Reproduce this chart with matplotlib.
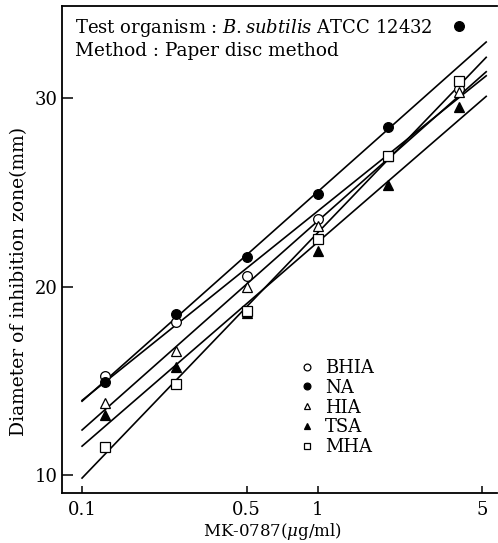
import numpy as np
import matplotlib

matplotlib.use("Agg")
import matplotlib.pyplot as plt

# MK-0787 concentration (ug/ml) and inhibition zone diameters (mm)
conc = [0.125, 0.25, 0.5, 1, 2, 4]
bhia = [15.25, 18.1, 20.55, 23.6, 26.9, 30.5]
na = [14.93, 18.54, 21.56, 24.9, 28.46, 33.8]
hia = [13.8, 16.58, 20.0, 23.2, 26.9, 30.3]
tsa = [13.18, 15.73, 18.6, 21.9, 25.4, 29.5]
mha = [11.5, 14.83, 18.7, 22.5, 26.9, 30.9]

names = ["BHIA", "NA", "HIA", "TSA", "MHA"]
series = [bhia, na, hia, tsa, mha]
# points used for each regression line (NA point at 4 ug/ml is left out)
n_fit = [6, 5, 6, 6, 6]

xticks = [0.1, 0.5, 1, 5]
xticklabels = ["0.1", "0.5", "1", "5"]
yticks = [10, 20, 30]

markers = ["o", "o", "^", "^", "s"]
faces = ["white", "black", "white", "black", "white"]

plt.rcParams.update({
    "font.family": "DejaVu Serif",
    "mathtext.fontset": "dejavuserif",
    "font.size": 12,
})

fig = plt.figure(figsize=(4.98, 5.43), dpi=100)
ax = fig.add_axes([62 / 498, 1 - 493 / 543, 435 / 498, 487 / 543])
ax.set_xscale("log")
ax.set_xlim(0.0822, 5.78)
ax.set_ylim(9.05, 34.88)

xs = np.array([0.1, 5.2])
handles = []
for name, ys, k, m, fc in zip(names, series, n_fit, markers, faces):
    lx = np.log10(conc[:k])
    b1, b0 = np.polyfit(lx, ys[:k], 1)
    ax.plot(xs, b0 + b1 * np.log10(xs), color="black", lw=1.2, zorder=2)
    h, = ax.plot(conc, ys, linestyle="none", marker=m, ms=7 if m != "s" else 6.5,
                 mfc=fc, mec="black", mew=0.9, label=name, zorder=3,
                 clip_on=False)
    handles.append(h)

ax.set_xticks(xticks)
ax.set_xticklabels(xticklabels)
ax.xaxis.set_minor_locator(matplotlib.ticker.NullLocator())
ax.set_yticks(yticks)
ax.tick_params(direction="in", labelsize=13, width=1.1)
ax.tick_params(axis="y", length=8, pad=3)
ax.tick_params(axis="x", length=5, pad=6)
for s in ax.spines.values():
    s.set_linewidth(1.3)
ax.spines["right"].set_visible(False)

ax.set_xlabel(r"MK-0787($\mu$g/ml)", fontsize=12)
ax.xaxis.set_label_coords(0.483, -0.058)
ax.set_ylabel("Diameter of inhibition zone(mm)", fontsize=13.5)
ax.yaxis.set_label_coords(-0.078, 0.435)

ax.text(0.03, 0.955, r"Test organism : $\it{B.subtilis}$ ATCC 12432",
        transform=ax.transAxes, fontsize=13, va="center", ha="left")
ax.text(0.03, 0.908, "Method : Paper disc method",
        transform=ax.transAxes, fontsize=13.3, va="center", ha="left")

leg = ax.legend(handles=handles, loc="upper left", bbox_to_anchor=(0.53, 0.29),
                frameon=False, handlelength=0.8, handletextpad=0.6,
                labelspacing=0.1, fontsize=13, markerscale=0.7,
                borderaxespad=0)

fig.savefig("out.png", dpi=100)
